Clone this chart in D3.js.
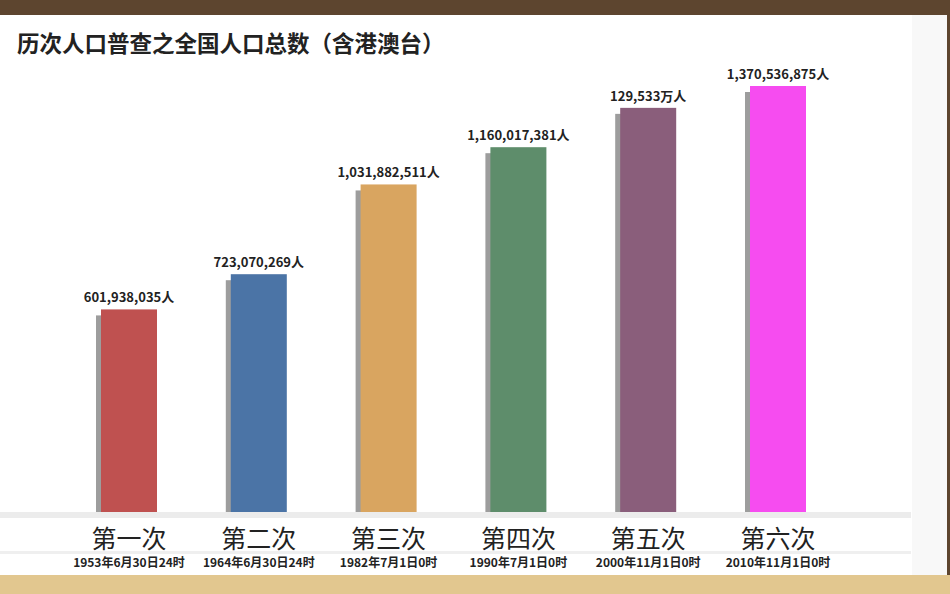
<!DOCTYPE html>
<html><head><meta charset="utf-8">
<script src="https://cdn.jsdelivr.net/npm/d3@7"></script>
<style>html,body{margin:0;padding:0;background:#fff;overflow:hidden}</style>
</head><body>
<svg id="chart" width="950" height="594"></svg>
<script>
const title = "历次人口普查之全国人口总数（含港澳台）";
const categories = ["第一次","第二次","第三次","第四次","第五次","第六次"];
const dates = ["1953年6月30日24时","1964年6月30日24时","1982年7月1日0时","1990年7月1日0时","2000年11月1日0时","2010年11月1日0时"];
const populations = [601938035, 723070269, 1031882511, 1160017381, 1295330000, 1370536875];
const valueLabels = ["601,938,035人","723,070,269人","1,031,882,511人","1,160,017,381人","129,533万人","1,370,536,875人"];
const colors = ["#bf5150","#4b74a6","#d9a560","#5e8d6b","#8a5e7b","#f64cf0"];

const svg = d3.select("#chart");
const font = "'Noto Sans CJK SC','Noto Sans',sans-serif";

// frame / background
svg.append("rect").attr("x",0).attr("y",0).attr("width",950).attr("height",594).attr("fill","#ffffff");
svg.append("rect").attr("x",912).attr("y",15).attr("width",36).attr("height",560).attr("fill","#f8f8f8");
svg.append("rect").attr("x",0).attr("y",0).attr("width",950).attr("height",15).attr("fill","#5d452f");
svg.append("rect").attr("x",947).attr("y",0).attr("width",3).attr("height",594).attr("fill","#5d452f");
svg.append("rect").attr("x",0).attr("y",575).attr("width",950).attr("height",19).attr("fill","#e2c78f");

// bands
svg.append("rect").attr("x",0).attr("y",512).attr("width",911).attr("height",6).attr("fill","#ececec");
svg.append("rect").attr("x",0).attr("y",551).attr("width",911).attr("height",3).attr("fill","#efefef");

const baseline = 512;
const x = d3.scalePoint().domain(categories).range([129, 778]);
const y = d3.scaleLinear().domain([-95000000, 1370536875]).range([baseline, 86]);
const bw = 56;

// title
svg.append("text").attr("x",17).attr("y",52).text(title)
  .attr("font-family",font).attr("font-size",22.5).attr("font-weight","bold").attr("fill","#222");

const g = svg.append("g");
// shadows
g.selectAll("rect.shadow").data(populations).join("rect").attr("class","shadow")
  .attr("x",(d,i)=>x(categories[i]) - bw/2 - 5)
  .attr("y",d=>y(d)+6)
  .attr("width",bw)
  .attr("height",d=>baseline - y(d) - 6)
  .attr("fill","#9d9d9d");
// bars
g.selectAll("rect.bar").data(populations).join("rect").attr("class","bar")
  .attr("x",(d,i)=>x(categories[i]) - bw/2)
  .attr("y",d=>y(d))
  .attr("width",bw)
  .attr("height",d=>baseline - y(d))
  .attr("fill",(d,i)=>colors[i]);
// value labels
g.selectAll("text.val").data(populations).join("text").attr("class","val")
  .attr("x",(d,i)=>x(categories[i]))
  .attr("y",d=>y(d)-7)
  .attr("text-anchor","middle")
  .attr("font-family",font).attr("font-size",13).attr("font-weight","bold").attr("fill","#222")
  .text((d,i)=>valueLabels[i]);
// category labels
g.selectAll("text.cat").data(categories).join("text").attr("class","cat")
  .attr("x",d=>x(d)).attr("y",548)
  .attr("text-anchor","middle")
  .attr("font-family",font).attr("font-size",25).attr("fill","#222")
  .text(d=>d);
// date labels
g.selectAll("text.date").data(dates).join("text").attr("class","date")
  .attr("x",(d,i)=>x(categories[i])).attr("y",567)
  .attr("text-anchor","middle")
  .attr("font-family",font).attr("font-size",12).attr("font-weight","bold").attr("fill","#222")
  .text(d=>d);
</script>
</body></html>
